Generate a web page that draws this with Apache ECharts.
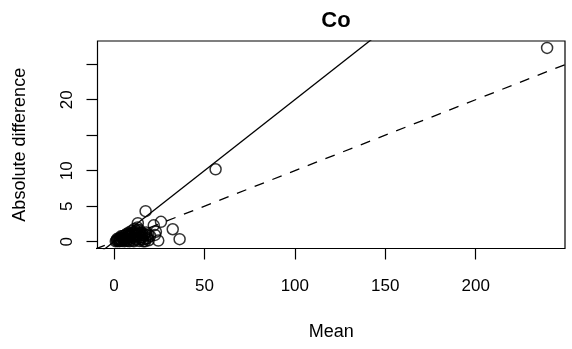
<!DOCTYPE html>
<html>
<head>
<meta charset="utf-8">
<script src="https://cdn.jsdelivr.net/npm/echarts@6/dist/echarts.min.js"></script>
<style>
html,body{margin:0;padding:0;background:#fff;}
#c{width:572px;height:349px;}
</style>
</head>
<body>
<div id="c"></div>
<script>
// Data
var outlierMeans = [239.5, 56.2, 17.5, 26.0, 22.0, 32.5, 36.3, 23.2, 22.7, 24.5, 13.2];
var outlierDiffs = [27.3, 10.2, 4.3, 2.8, 2.3, 1.75, 0.35, 1.4, 0.95, 0.15, 2.6];
var clusterMeans = [1.0,1.5,2.0,2.5,3.0,3.2,3.8,4.2,4.5,5.0,5.3,5.8,6.2,6.5,7.0,7.2,7.8,8.3,8.6,9.0,9.3,9.8,10.2,10.5,11.0,11.3,11.8,12.2,12.6,13.0,13.5,14.0,14.3,14.8,15.5,16.0,16.5,17.2,17.8,18.5,19.2,20.0,
  1.8,2.8,3.5,4.8,5.6,6.8,7.5,8.0,8.8,9.6,10.8,11.5,12.0,12.9,13.8,14.6,15.2,15.9,16.8,17.5,18.2,19.0,6.0,9.0,11.0,12.5,14.5,16.2,3.9,7.6];
var clusterDiffs = [0.05,0.2,0.1,0.35,0.05,0.5,0.2,0.6,0.1,0.8,0.3,0.05,0.9,0.5,1.1,0.2,0.7,1.3,0.05,0.4,1.0,1.5,0.6,0.15,1.2,1.8,0.8,0.3,1.5,2.0,1.0,0.1,1.6,0.6,1.2,0.3,0.9,0.05,1.3,0.5,0.2,0.8,
  0.4,0.15,0.3,0.45,0.6,0.4,0.9,1.0,0.7,1.2,0.5,1.4,1.1,1.7,1.3,0.35,0.9,0.6,1.1,0.4,0.9,1.0,0.25,0.75,0.05,0.9,1.2,0.05,0.75,0.1];
var xTicks = [0, 50, 100, 150, 200];
var yTicks = [0, 5, 10, 15, 20, 25];
var yTickLabels = [0, 5, 10, 20];
var lineSlopes = [0.2, 0.1]; // solid, dashed reference lines (through origin)
var lineRange = [-20, 260];

var points = [];
for (var i = 0; i < outlierMeans.length; i++) points.push([outlierMeans[i], outlierDiffs[i]]);
for (var j = 0; j < clusterMeans.length; j++) points.push([clusterMeans[j], clusterDiffs[j]]);

function lineData(s) { return [[lineRange[0], s * lineRange[0]], [lineRange[1], s * lineRange[1]]]; }

var FONT = 'Liberation Sans';
var chart = echarts.init(document.getElementById('c'), null, {renderer: 'canvas'});
chart.setOption({
  backgroundColor: '#fff',
  animation: false,
  title: {
    text: 'Co', left: 331, top: 5, textAlign: 'center',
    textStyle: {fontFamily: FONT, fontSize: 22, fontWeight: 'bold', color: '#000'}
  },
  grid: {left: 97.5, right: 7, top: 41, bottom: 100.5, show: true, borderColor: '#000', borderWidth: 1.2, backgroundColor: 'transparent'},
  xAxis: {
    type: 'value', min: -9.1, max: 249.4,
    name: 'Mean', nameLocation: 'middle', nameGap: 75,
    nameTextStyle: {fontFamily: FONT, fontSize: 18, color: '#000'},
    axisLine: {show: false, onZero: false},
    splitLine: {show: false},
    axisTick: {show: true, inside: false, length: 11, customValues: xTicks, lineStyle: {color: '#000', width: 1.2}},
    axisLabel: {customValues: xTicks, margin: 29, fontFamily: FONT, fontSize: 17, color: '#000'}
  },
  yAxis: {
    type: 'value', min: -0.96, max: 28.27,
    name: 'Absolute difference', nameLocation: 'middle', nameGap: 68,
    nameTextStyle: {fontFamily: FONT, fontSize: 18, color: '#000'},
    axisLine: {show: false, onZero: false},
    splitLine: {show: false},
    axisTick: {show: true, inside: false, length: 11, customValues: yTicks, lineStyle: {color: '#000', width: 1.2}},
    axisLabel: {customValues: yTickLabels, rotate: 90, margin: 22, fontFamily: FONT, fontSize: 17, color: '#000'}
  },
  series: [
    {
      type: 'line', data: lineData(lineSlopes[0]), showSymbol: false, clip: true, silent: true,
      lineStyle: {color: '#000', width: 1.3, type: 'solid'}
    },
    {
      type: 'line', data: lineData(lineSlopes[1]), showSymbol: false, clip: true, silent: true,
      lineStyle: {color: '#000', width: 1.3, type: [10, 9]}
    },
    {
      type: 'scatter', data: points, symbol: 'circle', symbolSize: 11,
      itemStyle: {color: 'rgba(0,0,0,0)', borderColor: '#000', borderWidth: 1.5}
    }
  ]
});
</script>
</body>
</html>
